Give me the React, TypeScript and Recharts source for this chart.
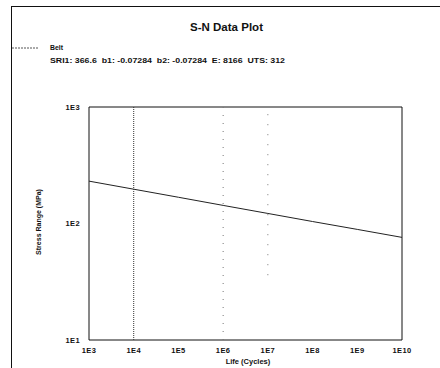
import {
  Line,
  LineChart,
  ReferenceArea,
  ReferenceLine,
  XAxis,
  YAxis,
} from "recharts";

// fitted S-N curve for "Belt", read at each decade
const cycles = [1e3, 1e4, 1e5, 1e6, 1e7, 1e8, 1e9, 1e10];
const stress = [231, 197, 168, 143, 122, 104, 89, 76];
const xTicks = [1e3, 1e4, 1e5, 1e6, 1e7, 1e8, 1e9, 1e10];
const yTicks = [10, 100, 1000];
const params = "SRI1: 366.6  b1: -0.07284  b2: -0.07284  E: 8166  UTS: 312";

const data = cycles.map((n, i) => ({ n, s: stress[i] }));

const font = "'Liberation Sans', Arial, sans-serif";
const expLabel = (v: number) => `1E${Math.round(Math.log10(v))}`;
const tickStyle = { fill: "#111", fontSize: 7.5, fontWeight: 700, fontFamily: font, letterSpacing: 0.4 };

export default function App() {
  return (
    <div style={{ position: "absolute", left: 0, top: 0, width: 440, height: 368, background: "#fff", overflow: "hidden" }}>
      {/* scanned frame: top and left edges only */}
      <div style={{ position: "absolute", left: 11, top: 6, width: 440, height: 380, borderTop: "1px solid #111", borderLeft: "1px solid #111" }} />

      <LineChart width={440} height={368} data={data} margin={{ top: 107, right: 38, left: 0, bottom: 0 }}>
        <XAxis
          dataKey="n"
          type="number"
          scale="log"
          domain={[1e3, 1e10]}
          ticks={xTicks}
          tickFormatter={expLabel}
          height={28}
          axisLine={false}
          tickLine={false}
          tickSize={0}
          tickMargin={8}
          tick={tickStyle}
          allowDataOverflow
        />
        <YAxis
          type="number"
          scale="log"
          domain={[10, 1000]}
          ticks={yTicks}
          tickFormatter={expLabel}
          width={89}
          axisLine={false}
          tickLine={false}
          tickSize={0}
          tickMargin={9}
          tick={tickStyle}
          allowDataOverflow
        />
        <ReferenceLine x={1e4} stroke="#333" strokeDasharray="1 1" />
        <ReferenceLine segment={[{ x: 1e6, y: 10 }, { x: 1e6, y: 1000 }]} stroke="#777" strokeDasharray="1 7" />
        <ReferenceLine segment={[{ x: 1e7, y: 36 }, { x: 1e7, y: 900 }]} stroke="#777" strokeDasharray="1 9" />
        <ReferenceArea x1={1e3} x2={1e10} y1={10} y2={1000} fill="none" stroke="#111" strokeWidth={1} />
        <Line dataKey="s" stroke="#222" strokeWidth={1} dot={false} isAnimationActive={false} />
      </LineChart>

      <svg width={440} height={368} style={{ position: "absolute", left: 0, top: 0, pointerEvents: "none" }}>
        <g fontFamily={font} fontWeight={700} fill="#111">
          <text x={190} y={31} fontSize={11} textLength={73} lengthAdjust="spacingAndGlyphs">S-N Data Plot</text>
          <line x1={12} y1={48} x2={38} y2={48} stroke="#555" strokeDasharray="2 1" />
          <text x={50} y={50} fontSize={7.5} textLength={13} lengthAdjust="spacingAndGlyphs">Belt</text>
          <text x={50} y={63} fontSize={8} textLength={235} lengthAdjust="spacingAndGlyphs" style={{ whiteSpace: "pre" }}>{params}</text>
          <text x={248} y={364} fontSize={7.5} textAnchor="middle">Life (Cycles)</text>
          <text x={41} y={222} fontSize={7} textAnchor="middle" transform="rotate(-90 41 222)">Stress Range (MPa)</text>
        </g>
      </svg>
    </div>
  );
}
